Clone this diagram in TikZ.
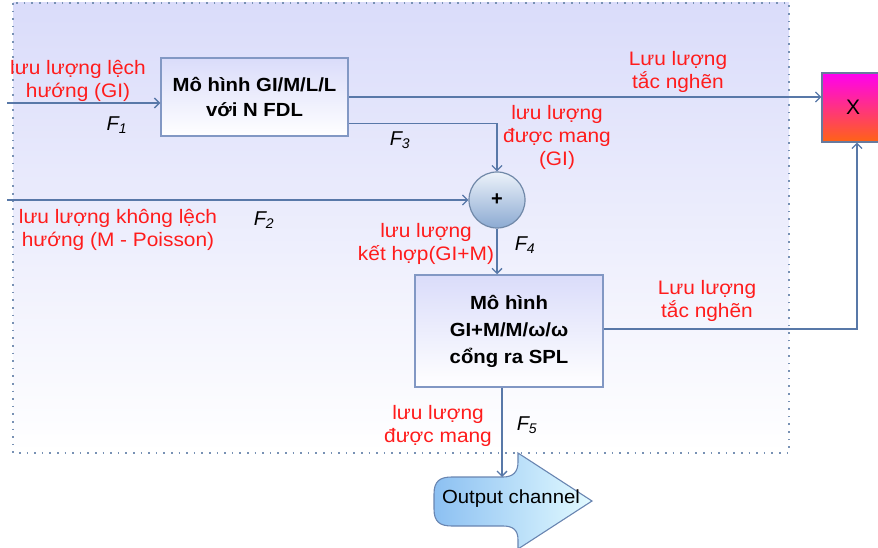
\documentclass[tikz,border=0pt]{standalone}
\usepackage{fontspec}
\setmainfont{Liberation Sans}
\newfontfamily\widesans[FakeStretch=1.07]{Liberation Sans}
\usetikzlibrary{arrows.meta,calc}
\definecolor{lineblue}{RGB}{88,120,168}
\definecolor{boxedge}{RGB}{130,152,196}
\definecolor{lavtop}{RGB}{218,220,250}
\definecolor{labred}{RGB}{255,28,28}
\definecolor{dotblue}{RGB}{120,145,180}
\definecolor{circtop}{RGB}{236,242,250}
\definecolor{circbot}{RGB}{140,170,210}
\definecolor{xtop}{RGB}{255,0,240}
\definecolor{xbot}{RGB}{255,100,20}
\definecolor{outleft}{RGB}{140,192,242}
\definecolor{outright}{RGB}{226,250,255}
\tikzset{
  arr/.style={draw=lineblue, line width=1.3pt, -{Straight Barb[length=5pt,width=10pt,line width=1.3pt]}},
  modelbox/.style={draw=boxedge, line width=1.5pt, top color=lavtop, bottom color=white,
     font=\widesans\fontsize{19}{25}\selectfont\bfseries, align=center, inner sep=0pt},
  lab/.style={text=labred, font=\widesans\fontsize{19.5}{23}\selectfont, align=center, inner sep=0pt},
  flab/.style={font=\fontsize{20}{23}\selectfont\itshape, inner sep=0pt}
}
\begin{document}
\begin{tikzpicture}[x=1pt,y=-1pt]
\useasboundingbox (0,0) rectangle (878,548);
% background frame
\path[top color=lavtop, bottom color=white] (13,3) rectangle (789,453);
\draw[dotblue, line width=1.6pt, dash pattern=on 1.6pt off 6pt] (13,3) rectangle (789,453);

% boxes
\node[modelbox, minimum width=187pt, minimum height=78pt] (m1) at (254.5,97) {Mô hình GI/M/L/L\\với N FDL};
\node[modelbox, minimum width=188pt, minimum height=112pt, font=\widesans\fontsize{19}{27}\selectfont\bfseries] (m2) at (509,331) {Mô hình\\GI+M/M/ω/ω\\cổng ra SPL};
\node[circle, draw=circbot!80!black, line width=1.2pt, top color=circtop, bottom color=circbot, minimum size=56pt, inner sep=0pt, font=\fontsize{20}{20}\selectfont\bfseries] (plus) at (497,200) {+};
\node[draw=boxedge!80!black, line width=1.2pt, top color=xtop, bottom color=xbot, minimum width=70pt, minimum height=69pt, inner sep=0pt] (X) at (857,107.5) {};
\node[font=\fontsize{21}{21}\selectfont, inner sep=0pt] (xl) at (853,107) {X};

% output channel
\draw[draw=lineblue!90, line width=1.1pt, left color=outleft, right color=outright]
  (434,494) .. controls (434,481) and (440,477) .. (452,477) -- (503,477)
  .. controls (513,477) and (518,472) .. (518,462) -- (518,453) -- (592,501) -- (518,549)
  -- (518,540) .. controls (518,530) and (513,526) .. (503,526) -- (452,526)
  .. controls (440,526) and (434,522) .. (434,509) -- cycle;
\node[font=\widesans\fontsize{19}{20}\selectfont, inner sep=0pt] (out) at (511,499) {Output channel};
\coordinate (outtop) at (502,477);

% inputs
\coordinate (in1) at (7,103);
\coordinate (in2) at (7,200);

% connectors
\draw[arr] (in1) -- (in1 -| m1.west);
\draw[arr] (m1.east) -- (m1.east -| X.west);
\draw[arr] ($(m1.south east)+(0,-13)$) -| (plus.north);
\draw[arr] (in2) -- (plus.west);
\draw[arr] (plus.south) -- (plus.south |- m2.north);
\draw[arr] ($(m2.east)+(0,-2)$) -| (X.south);
\draw[arr] (outtop |- m2.south) -- (outtop);

% labels
\node[lab] (l1) at (78,81) {lưu lượng lệch\\hướng (GI)};
\node[flab] (f1) at (117,125) {F\textsubscript{1}};
\node[lab] (l2) at (678,72) {Lưu lượng\\tắc nghẽn};
\node[lab] (l3) at (557,137) {lưu lượng\\được mang\\(GI)};
\node[flab] (f3) at (400,140) {F\textsubscript{3}};
\node[lab] (l4) at (118,230) {lưu lượng không lệch\\hướng (M - Poisson)};
\node[flab] (f2) at (264,220) {F\textsubscript{2}};
\node[lab] (l5) at (426,244) {lưu lượng\\kết hợp(GI+M)};
\node[flab] (f4) at (525,245) {F\textsubscript{4}};
\node[lab] (l6) at (707,301) {Lưu lượng\\tắc nghẽn};
\node[lab] (l7) at (438,426) {lưu lượng\\được mang};
\node[flab] (f5) at (527,425) {F\textsubscript{5}};
\end{tikzpicture}
\end{document}
